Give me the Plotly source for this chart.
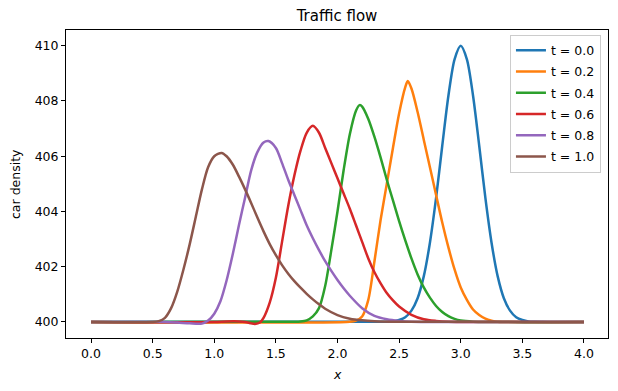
import plotly.graph_objects as go

# ---- data ----
labels = ["t = 0.0", "t = 0.2", "t = 0.4", "t = 0.6", "t = 0.8", "t = 1.0"]
colors = ["#1f77b4", "#ff7f0e", "#2ca02c", "#d62728", "#9467bd", "#8c564b"]

x_t00 = [0.0, 2.4, 2.45, 2.5, 2.55, 2.6, 2.65, 2.7, 2.75, 2.8, 2.85, 2.9, 2.95, 3.0,
         3.05, 3.1, 3.15, 3.2, 3.25, 3.3, 3.35, 3.4, 3.45, 3.5, 3.55, 3.6, 4.0]
y_t00 = [400.0, 400.01, 400.02, 400.07, 400.17, 400.41, 400.86, 401.65, 402.87, 404.49,
         406.38, 408.19, 409.51, 410.0, 409.51, 408.19, 406.38, 404.49, 402.87, 401.65,
         400.86, 400.41, 400.17, 400.07, 400.02, 400.01, 400.0]

x_t02 = [0.0, 2.1, 2.15, 2.2, 2.25, 2.3, 2.35, 2.4, 2.45, 2.5, 2.55, 2.57, 2.6, 2.65,
         2.7, 2.75, 2.8, 2.85, 2.9, 2.95, 3.0, 3.05, 3.1, 3.15, 3.2, 3.25, 3.3, 4.0]
y_t02 = [400.0, 400.01, 400.05, 400.2, 400.8, 402.2, 403.7, 405.0, 406.3, 407.55, 408.5,
         408.72, 408.45, 407.6, 406.6, 405.6, 404.6, 403.6, 402.7, 401.9, 401.25, 400.8,
         400.45, 400.25, 400.12, 400.05, 400.01, 400.0]

x_t04 = [0.0, 1.65, 1.7, 1.75, 1.8, 1.85, 1.9, 1.95, 2.0, 2.05, 2.1, 2.15, 2.18, 2.2,
         2.25, 2.3, 2.35, 2.4, 2.45, 2.5, 2.55, 2.6, 2.65, 2.7, 2.75, 2.8, 2.85, 2.9,
         2.95, 3.0, 3.1, 4.0]
y_t04 = [400.0, 400.01, 400.02, 400.06, 400.2, 400.5, 401.3, 402.6, 404.0, 405.5, 406.8,
         407.65, 407.85, 407.8, 407.35, 406.7, 405.95, 405.15, 404.4, 403.65, 402.95, 402.3,
         401.72, 401.25, 400.88, 400.58, 400.36, 400.21, 400.11, 400.05, 400.01, 400.0]

x_t06 = [0.0, 1.0, 1.1, 1.2, 1.25, 1.3, 1.33, 1.37, 1.4, 1.45, 1.5, 1.55, 1.6, 1.65,
         1.7, 1.75, 1.8, 1.85, 1.9, 1.95, 2.0, 2.05, 2.1, 2.15, 2.2, 2.25, 2.3, 2.35,
         2.4, 2.45, 2.5, 2.6, 2.7, 2.8, 2.9, 4.0]
y_t06 = [400.0, 400.0, 400.02, 400.02, 400.0, 399.95, 399.93, 399.98, 400.15, 400.7,
         401.6, 402.9, 404.2, 405.3, 406.2, 406.85, 407.1, 406.85, 406.3, 405.75, 405.2,
         404.65, 404.1, 403.5, 402.9, 402.3, 401.8, 401.4, 401.05, 400.78, 400.56, 400.26,
         400.1, 400.04, 400.01, 400.0]

x_t08 = [0.0, 0.6, 0.7, 0.8, 0.9, 0.95, 1.0, 1.05, 1.1, 1.15, 1.2, 1.25, 1.3, 1.35,
         1.4, 1.44, 1.5, 1.55, 1.6, 1.65, 1.7, 1.75, 1.8, 1.85, 1.9, 1.95, 2.0, 2.05,
         2.1, 2.2, 2.3, 2.4, 2.5, 2.6, 4.0]
y_t08 = [400.0, 400.0, 399.98, 399.95, 399.94, 400.05, 400.3, 400.75, 401.5, 402.45,
         403.5, 404.5, 405.5, 406.15, 406.5, 406.55, 406.3, 405.75, 405.15, 404.6, 404.05,
         403.5, 403.03, 402.6, 402.2, 401.85, 401.52, 401.22, 400.95, 400.5, 400.22, 400.1,
         400.04, 400.01, 400.0]

x_t10 = [0.0, 0.5, 0.55, 0.6, 0.65, 0.7, 0.75, 0.8, 0.85, 0.9, 0.95, 1.0, 1.06, 1.1,
         1.15, 1.2, 1.25, 1.3, 1.35, 1.4, 1.45, 1.5, 1.55, 1.6, 1.65, 1.7, 1.75, 1.8,
         1.85, 1.9, 2.0, 2.1, 2.2, 2.3, 2.5, 4.0]
y_t10 = [400.0, 400.0, 400.03, 400.15, 400.5, 401.1, 401.9, 402.8, 403.8, 404.8, 405.6,
         406.0, 406.12, 406.0, 405.7, 405.27, 404.8, 404.3, 403.78, 403.28, 402.82, 402.42,
         402.06, 401.75, 401.48, 401.24, 401.02, 400.82, 400.64, 400.48, 400.25, 400.12,
         400.06, 400.03, 400.01, 400.0]

xs = [x_t00, x_t02, x_t04, x_t06, x_t08, x_t10]
ys = [y_t00, y_t02, y_t04, y_t06, y_t08, y_t10]

x_ticks = [0.0, 0.5, 1.0, 1.5, 2.0, 2.5, 3.0, 3.5, 4.0]
x_ticktext = ["0.0", "0.5", "1.0", "1.5", "2.0", "2.5", "3.0", "3.5", "4.0"]
y_ticks = [400, 402, 404, 406, 408, 410]

FONT = "DejaVu Sans"
W, H = 618, 391
L, R, T, B = 66, 10, 30, 53
PW, PH = W - L - R, H - T - B

fig = go.Figure()
for i, (x, y, name, c) in enumerate(zip(xs, ys, labels, colors)):
    fig.add_trace(go.Scatter(x=x, y=y, mode="lines", name=name, legendgroup=f"g{i}",
                             line=dict(color=c, width=2.5, shape="spline", smoothing=0.8)))

axis_common = dict(showline=True, linecolor="black", linewidth=1, mirror=True,
                   ticks="outside", ticklen=4, tickwidth=1, tickcolor="black",
                   showgrid=False, zeroline=False, automargin=False,
                   tickfont=dict(family=FONT, size=12.5, color="black"))

fig.update_layout(
    width=W, height=H,
    margin=dict(l=L, r=R, t=T, b=B, autoexpand=False),
    paper_bgcolor="white", plot_bgcolor="white",
    font=dict(family=FONT, size=12.5, color="black"),
    title=dict(text="Traffic flow", x=(L + PW / 2) / W, xanchor="center",
               y=1 - 16 / H, yanchor="middle",
               font=dict(family=FONT, size=15, color="black")),
    xaxis=dict(range=[-0.203, 4.195], tickvals=x_ticks, ticktext=x_ticktext,
               **axis_common),
    yaxis=dict(range=[399.42, 410.57], tickvals=y_ticks, **axis_common),
    legend=dict(x=0.987, y=0.985, xanchor="right", yanchor="top",
                bgcolor="rgba(255,255,255,0.8)", bordercolor="#cccccc", borderwidth=1,
                font=dict(family=FONT, size=12.5, color="black"),
                itemwidth=30, tracegroupgap=2, traceorder="grouped"),
    showlegend=True,
    annotations=[
        dict(text="<i>x</i>", xref="paper", yref="paper",
             x=0.5, y=(PH - (374 - T)) / PH, xanchor="center", yanchor="middle",
             showarrow=False, font=dict(family=FONT, size=12.5, color="black")),
        dict(text="car density", xref="paper", yref="paper",
             x=(15 - L) / PW, y=0.5, xanchor="center", yanchor="middle", textangle=-90,
             showarrow=False, font=dict(family=FONT, size=12.5, color="black")),
    ],
)

fig.write_html("out.html", post_script="document.body.style.margin='0';",
               config={"displayModeBar": False})
